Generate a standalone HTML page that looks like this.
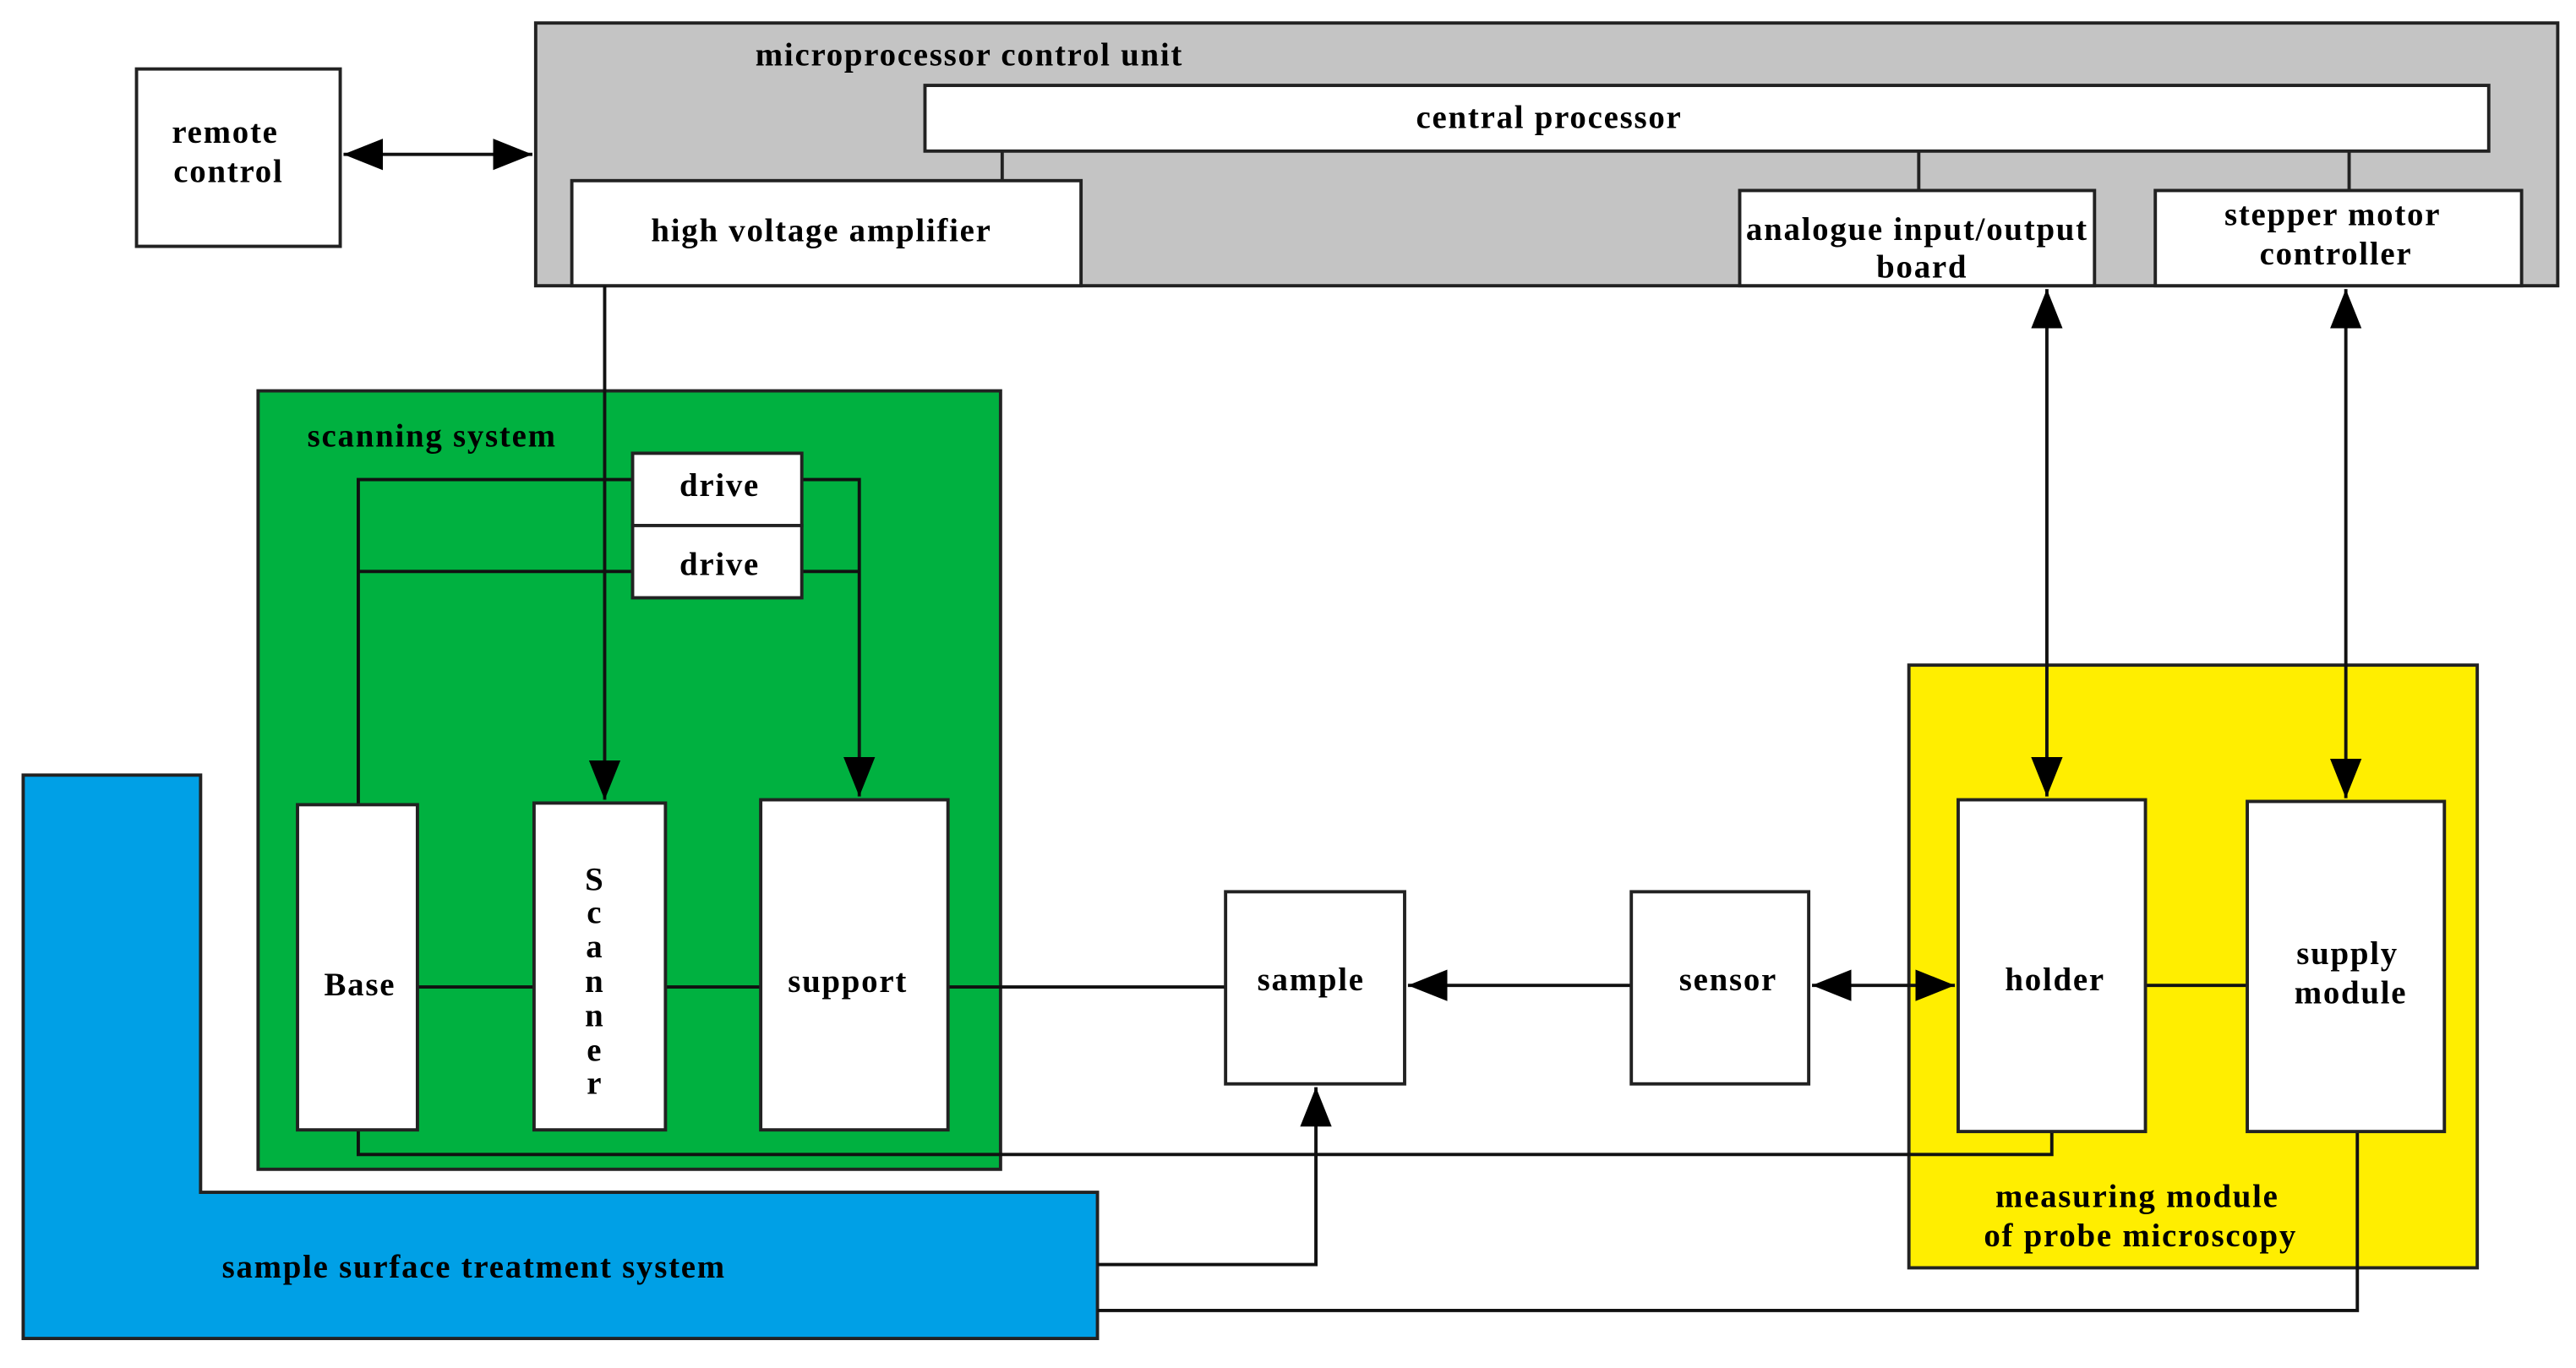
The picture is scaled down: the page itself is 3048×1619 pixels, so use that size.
<!DOCTYPE html>
<html><head><meta charset="utf-8"><style>html,body{margin:0;padding:0;background:#fff}svg{display:block}text{font-family:"Liberation Serif",serif;font-weight:bold;font-size:20px;letter-spacing:0.9px;fill:#000}</style></head>
<body>
<svg width="3048" height="1619" viewBox="0 0 1568 833" xmlns="http://www.w3.org/2000/svg">
<defs>
<marker id="b" viewBox="0 0 10 10" refX="10" refY="5" markerWidth="24" markerHeight="24" orient="auto-start-reverse" markerUnits="userSpaceOnUse"><path d="M0,1L10,5L0,9z" fill="#000"/></marker>
</defs>
<g stroke="#222" stroke-width="2">
<rect x="326" y="14" width="1231" height="160" fill="#c4c4c4"/>
<rect x="563" y="52" width="952" height="40" fill="#fff"/>
<line x1="610" y1="92" x2="610" y2="110"/><line x1="1168" y1="92" x2="1168" y2="116"/><line x1="1430" y1="92" x2="1430" y2="116"/>
<rect x="348" y="110" width="310" height="64" fill="#fff"/>
<rect x="1059" y="116" width="216" height="58" fill="#fff"/>
<rect x="1312" y="116" width="223" height="58" fill="#fff"/>
<rect x="83" y="42" width="124" height="108" fill="#fff"/>
<rect x="157" y="238" width="452" height="474" fill="#00b140"/>
<rect x="1162" y="405" width="346" height="367" fill="#ffee00"/>
<polygon points="14,472 122,472 122,726 668,726 668,815 14,815" fill="#00a0e6"/>
</g>
<g stroke="#111" stroke-width="2" fill="none">
<line x1="209" y1="94" x2="324" y2="94" marker-start="url(#b)" marker-end="url(#b)"/>
<polyline points="218,490 218,292 385,292"/><polyline points="488,292 523,292 523,485" marker-end="url(#b)"/>
<line x1="218" y1="348" x2="385" y2="348"/><line x1="488" y1="348" x2="523" y2="348"/>
<line x1="368" y1="174" x2="368" y2="487" marker-end="url(#b)"/>
<line x1="254" y1="601" x2="325" y2="601"/><line x1="405" y1="601" x2="463" y2="601"/><line x1="577" y1="601" x2="746" y2="601"/>
<line x1="993" y1="600" x2="857" y2="600" marker-end="url(#b)"/>
<line x1="1103" y1="600" x2="1190" y2="600" marker-start="url(#b)" marker-end="url(#b)"/>
<line x1="1306" y1="600" x2="1368" y2="600"/>
<line x1="1246" y1="176" x2="1246" y2="485" marker-start="url(#b)" marker-end="url(#b)"/>
<line x1="1428" y1="176" x2="1428" y2="486" marker-start="url(#b)" marker-end="url(#b)"/>
<polyline points="1249,689 1249,703 218,703 218,688"/>
<polyline points="668,770 801,770 801,662" marker-end="url(#b)"/>
<polyline points="1435,689 1435,798 668,798"/>
</g>
<g stroke="#222" stroke-width="2" fill="#fff">
<rect x="385" y="276" width="103" height="44"/><rect x="385" y="320" width="103" height="44"/>
<rect x="181" y="490" width="73" height="198"/><rect x="325" y="489" width="80" height="199"/><rect x="463" y="487" width="114" height="201"/>
<rect x="746" y="543" width="109" height="117"/><rect x="993" y="543" width="108" height="117"/>
<rect x="1192" y="487" width="114" height="202"/><rect x="1368" y="488" width="120" height="201"/>
</g>
<g text-anchor="middle">
<text x="590" y="40">microprocessor control unit</text>
<text x="943" y="78">central processor</text>
<text x="500" y="147">high voltage amplifier</text>
<text x="1167" y="146">analogue input/output</text><text x="1170" y="169">board</text>
<text x="1420" y="137">stepper motor</text><text x="1422" y="161">controller</text>
<text x="137" y="87">remote</text><text x="139" y="111">control</text>
<text x="438" y="302">drive</text><text x="438" y="350">drive</text>
<text x="219" y="606">Base</text>
<text x="362" y="542">S</text><text x="362" y="562">c</text><text x="362" y="583">a</text><text x="362" y="604">n</text><text x="362" y="625">n</text><text x="362" y="646">e</text><text x="362" y="666">r</text>
<text x="516" y="604">support</text>
<text x="798" y="603">sample</text><text x="1052" y="603">sensor</text>
<text x="1251" y="603">holder</text>
<text x="1429" y="587">supply</text><text x="1431" y="611">module</text>
<text x="1301" y="735">measuring module</text><text x="1303" y="759">of probe microscopy</text>
</g>
<text x="187" y="272">scanning system</text>
<text x="135" y="778">sample surface treatment system</text>
</svg>
</body></html>
